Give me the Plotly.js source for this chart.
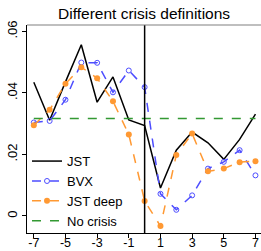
<!DOCTYPE html>
<html>
<head>
<meta charset="utf-8">
<script src="https://cdn.plot.ly/plotly-3.0.1.min.js"></script>
<style>html,body{margin:0;padding:0;background:#fff;}#chart{width:261px;height:251px;}</style>
</head>
<body>
<div id="chart"></div>
<script>
var years = [-7,-6,-5,-4,-3,-2,-1,0,1,2,3,4,5,6,7];
var jst = [0.0435,0.0311,0.0436,0.0557,0.0370,0.0452,0.0312,0.0294,0.0091,0.0214,0.0273,0.0238,0.0184,0.0249,0.0331];
var bvx = [0.0304,0.0309,0.0378,0.0499,0.0498,0.0402,0.0473,0.0419,0.0072,0.0020,0.0067,0.0154,0.0176,0.0214,0.0132];
var jstDeep = [0.0295,0.0345,0.0430,0.0484,0.0448,0.0373,0.0265,0.0049,-0.0033,0.0198,0.0268,0.0145,0.0154,0.0175,0.0178];
var noCrisisX = [-7,7];
var noCrisis = [0.0317,0.0317];
var xTicks = [-7,-5,-3,-1,1,3,5,7];
var yTickVals = [0,0.02,0.04,0.06];
var yTickText = ['0','.02','.04','.06'];

var traces = [
  {x:years, y:jst, name:'JST', mode:'lines', line:{color:'#000000', width:1.5}},
  {x:years, y:bvx, name:'BVX', mode:'lines+markers', line:{color:'#4d4dff', width:1.5, dash:'dash'},
   marker:{symbol:'circle-open', size:5, color:'#4d4dff', line:{width:1}}},
  {x:years, y:jstDeep, name:'JST deep', mode:'lines+markers', line:{color:'#ff9933', width:1.5, dash:'dash'},
   marker:{symbol:'circle', size:6, color:'#ff9933'}},
  {x:noCrisisX, y:noCrisis, name:'No crisis', mode:'lines', line:{color:'#339933', width:1.5, dash:'dash'}}
];

var layout = {
  width:261, height:251,
  margin:{l:27, r:0, t:25, b:18},
  paper_bgcolor:'#ffffff', plot_bgcolor:'#ffffff',
  font:{family:'Liberation Sans, Arial, sans-serif', size:13, color:'#000'},
  title:{text:'Different crisis definitions', font:{size:15.5, color:'#000'}, x:0.552, xanchor:'center', y:0.945, yanchor:'middle'},
  showlegend:true,
  legend:{x:0.0, y:-0.015, xanchor:'left', yanchor:'bottom', bgcolor:'rgba(0,0,0,0)', font:{size:13}, tracegroupgap:0, itemwidth:30},
  xaxis:{range:[-7.43,7.35], tickvals:xTicks, ticktext:xTicks.map(String), showgrid:false, zeroline:false,
         showline:true, linecolor:'#000', linewidth:1, ticks:'outside', ticklen:4, tickcolor:'#000', tickfont:{size:12.5},
         ticklabelstandoff:-6},
  yaxis:{range:[-0.00554,0.0621], tickvals:yTickVals, ticktext:yTickText, tickangle:-90, showgrid:false, zeroline:false,
         showline:true, linecolor:'#000', linewidth:1, ticks:'outside', ticklen:4, tickcolor:'#000', tickfont:{size:13}},
  shapes:[
    {type:'line', xref:'x', yref:'paper', x0:0, x1:0, y0:0, y1:1, line:{color:'#000', width:1.5}},
    {type:'line', xref:'paper', yref:'paper', x0:0, x1:1, y0:1, y1:1, line:{color:'#808080', width:1.2}}
  ]
};
Plotly.newPlot('chart', traces, layout, {displayModeBar:false, staticPlot:true});
</script>
</body>
</html>
